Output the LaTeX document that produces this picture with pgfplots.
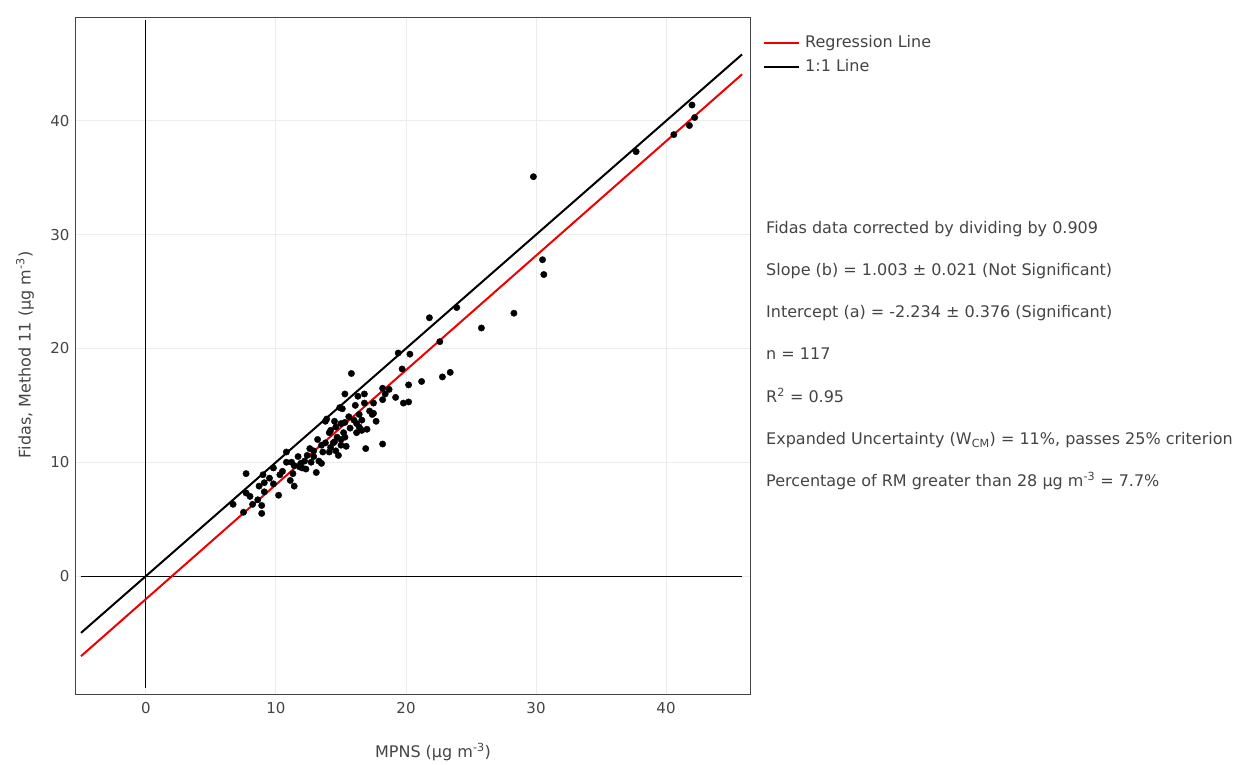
\documentclass[border=0pt]{standalone}
\usepackage{fontspec}
\setmainfont{DejaVu Sans}
\usepackage{pgfplots}
\usepackage{pgfplotstable}
\pgfplotsset{compat=1.18}
\definecolor{txt}{RGB}{68,68,68}
\definecolor{grd}{RGB}{236,236,236}
\definecolor{regred}{RGB}{238,0,0}

%% MPNS vs Fidas (corrected)
\pgfplotstableread{
x y
29.8 35.1
30.5 27.8
30.6 26.5
28.3 23.1
25.8 21.8
23.9 23.6
21.8 22.7
23.4 17.9
22.8 17.5
22.6 20.6
21.2 17.1
20.3 19.5
19.4 19.6
19.7 18.2
20.2 16.8
20.2 15.3
19.8 15.2
19.2 15.7
18.7 16.4
18.2 16.5
18.2 15.5
18.2 11.6
15.8 17.8
15.3 16.0
16.3 15.8
16.8 16.0
16.8 15.2
16.1 15.0
14.9 14.8
15.1 14.7
13.9 13.8
13.8 13.6
14.2 12.8
14.6 13.1
15.0 13.4
15.3 13.5
14.7 12.2
15.3 12.2
15.0 11.5
15.4 11.4
14.6 11.0
14.8 10.6
14.5 11.8
16.2 13.4
16.4 13.1
16.6 13.7
16.6 12.8
17.0 12.9
17.4 14.2
17.5 14.3
17.7 13.6
17.5 15.2
16.9 11.2
13.2 12.0
12.6 11.2
13.6 10.9
13.3 10.1
13.5 9.9
13.1 9.1
12.2 10.1
12.7 10.0
12.0 9.5
11.8 9.6
11.7 10.5
11.2 10.0
11.4 9.7
11.3 9.0
11.1 8.4
11.4 7.9
10.8 10.0
10.8 10.9
10.3 8.9
10.2 7.1
9.8 9.5
9.8 8.1
9.1 8.2
9.0 8.9
9.1 7.4
8.7 7.9
8.6 6.7
8.2 6.3
8.9 6.2
8.9 5.5
7.7 9.0
7.7 7.3
8.0 7.0
7.5 5.6
6.7 6.3
37.7 37.3
40.6 38.8
42.0 41.4
41.8 39.6
42.2 40.3
13.8 11.7
14.4 11.7
14.1 10.9
12.9 10.5
15.7 13.0
15.2 12.6
16.2 12.6
16.5 12.9
14.5 13.6
16.0 13.7
14.1 12.6
13.5 11.5
12.9 11.0
12.4 10.6
11.9 9.9
10.5 9.2
9.5 8.6
17.2 14.5
16.4 14.2
15.6 14.0
15.0 12.0
14.2 11.3
18.4 16.0
12.3 9.4
}\pmdata

\begin{document}
\fontsize{16pt}{19pt}\selectfont
\begin{tikzpicture}
\useasboundingbox (0,0) rectangle (1245pt,765pt);
\begin{axis}[
  at={(75pt,70pt)}, anchor=south west,
  scale only axis, width=675pt, height=677pt,
  xmin=-5.46, xmax=46.46, ymin=-10.46, ymax=49.05,
  xtick={0,10,20,30,40}, ytick={0,10,20,30,40},
  major tick length=0pt,
  grid=major, major grid style={grd, line width=1pt},
  axis line style={txt, line width=1pt},
  tick label style={txt, font=\fontsize{15pt}{18pt}\selectfont},
  /pgf/number format/assume math mode=true,
  xticklabel style={yshift=-2pt},
  legend cell align=left,
  legend style={at={(1.0148,0.98)}, anchor=north west, draw=none, fill=none,
    font=\fontsize{16pt}{19pt}\selectfont, text=txt, row sep=5pt,
    nodes={inner xsep=5pt}},
  legend image code/.code={\draw[#1, line width=2pt] (0pt,0pt) -- (35pt,0pt);},
]
%% zero lines
\draw[black, line width=1pt] (axis cs:-5,0) -- (axis cs:45.85,0);
\draw[black, line width=1pt] (axis cs:0,-9.85) -- (axis cs:0,48.9);
\addplot[regred, line width=2pt] coordinates {(-5,-7.05) (45.85,44.1)};
\addlegendentry{Regression Line}
\addplot[black, line width=2pt] coordinates {(-5,-5) (45.85,45.85)};
\addlegendentry{1:1 Line}
\addplot[only marks, mark=*, mark size=3.2pt, black, forget plot] table[x=x,y=y] {\pmdata};
\end{axis}
%% axis titles
\node[txt, anchor=center] at (433pt,13pt) {MPNS (µg m\textsuperscript{-3})};
\node[txt, anchor=center, rotate=90] at (25pt,410pt) {Fidas, Method 11 (µg m\textsuperscript{-3})};
%% statistics
\begin{scope}[every node/.style={txt, anchor=base west, inner sep=0pt}]
\node at (766pt,531pt) {Fidas data corrected by dividing by 0.909};
\node at (766pt,489pt) {Slope (b) = 1.003 ± 0.021 (Not Significant)};
\node at (766pt,447pt) {Intercept (a) = -2.234 ± 0.376 (Significant)};
\node at (766pt,405pt) {n = 117};
\node at (766pt,362pt) {R\textsuperscript{2} = 0.95};
\node at (766pt,320pt) {Expanded Uncertainty (W\textsubscript{CM}) = 11\%, passes 25\% criterion};
\node at (766pt,278pt) {Percentage of RM greater than 28 µg m\textsuperscript{-3} = 7.7\%};
\end{scope}
\end{tikzpicture}
\end{document}
